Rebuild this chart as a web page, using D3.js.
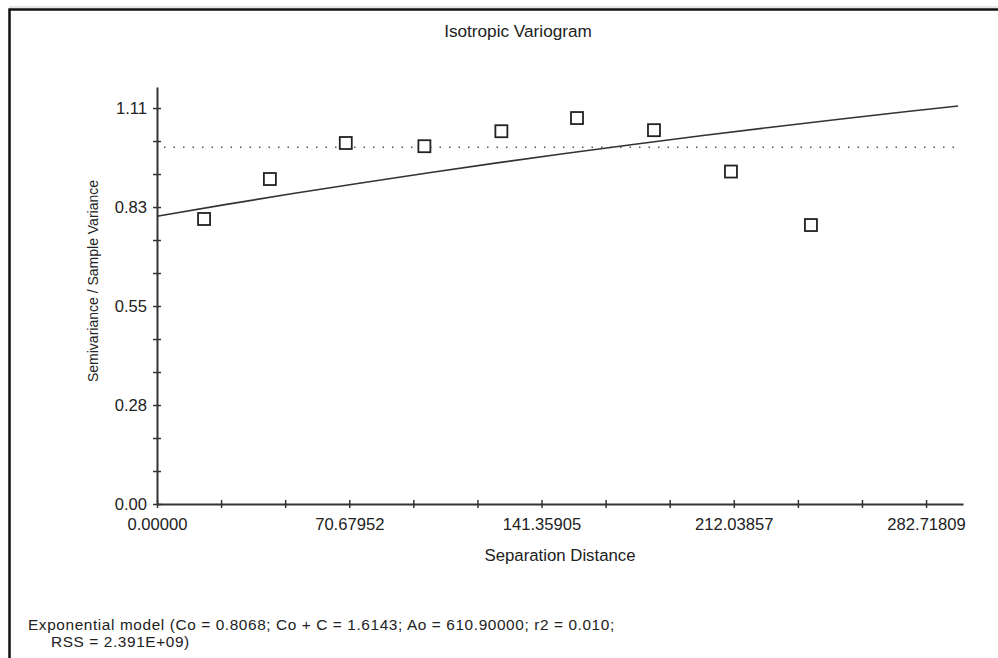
<!DOCTYPE html>
<html>
<head>
<meta charset="utf-8">
<script src="https://cdn.jsdelivr.net/npm/d3@7"></script>
<style>
body{margin:0;background:#fff;}
svg{display:block;font-family:"Liberation Sans",Arial,sans-serif;}
</style>
</head>
<body>
<svg id="chart" width="998" height="658"></svg>
<script>
// sample variogram points (lag distance, semivariance / sample variance)
var lagDist = [17.3, 41.5, 69.4, 98.3, 126.6, 154.4, 182.7, 211.0, 240.4];
var semiVar = [0.799, 0.911, 1.012, 1.003, 1.045, 1.082, 1.048, 0.932, 0.782];

// fitted exponential model
var modelLag = [0, 25, 50, 75, 100, 125, 150, 175, 200, 225, 250, 275, 294.5];
var modelVal = [0.8068, 0.8392, 0.8703, 0.9001, 0.9287, 0.9562, 0.9826, 1.0079, 1.0322, 1.0556, 1.0780, 1.0995, 1.1157];

var sampleVariance = 1.0;

var xTickLabels = ["0.00000", "70.67952", "141.35905", "212.03857", "282.71809"];
var yTickLabels = ["0.00", "0.28", "0.55", "0.83", "1.11"];
var xStep = 70.67952, yStep = 0.2775;

var titleText = "Isotropic Variogram";
var xLabel = "Separation Distance";
var yLabel = "Semivariance / Sample Variance";
var footer = ["Exponential model (Co = 0.8068; Co + C = 1.6143; Ao = 610.90000; r2 = 0.010;",
              "RSS = 2.391E+09)"];

var svg = d3.select("#chart");
var ink = "#222";

// frame
svg.append("path").attr("d", "M9.5,658V9.5H998")
	.attr("fill", "none").attr("stroke", "#111").attr("stroke-width", 2.5);
svg.append("line").attr("x1", 9).attr("x2", 998).attr("y1", 7).attr("y2", 7)
	.attr("stroke", "#ccc").attr("stroke-width", 1);

var x = d3.scaleLinear().domain([0, 296.3]).range([157, 963]);
var y = d3.scaleLinear().domain([0, 1.169]).range([504, 87]);

var xTicks = d3.range(0, 13).map(function(i){ return i * xStep / 3; });
var yTicks = d3.range(0, 13).map(function(i){ return i * yStep / 3; });

// x axis
var xAxis = svg.append("g").attr("transform", "translate(0," + y(0) + ")")
	.call(d3.axisBottom(x).tickValues(xTicks).tickSizeInner(4).tickSizeOuter(0)
		.tickFormat(function(d, i){ return i % 3 == 0 ? xTickLabels[i / 3] : ""; }));
xAxis.select(".domain").attr("stroke", "#333").attr("stroke-width", 2);
xAxis.selectAll(".tick line").attr("y1", -4).attr("stroke", "#333").attr("stroke-width", 1.5);
xAxis.selectAll(".tick text").attr("y", 14).attr("dy", "0.71em")
	.attr("font-size", 16.6).attr("fill", ink).attr("font-family", null);

// y axis
var yAxis = svg.append("g").attr("transform", "translate(" + x(0) + ",0)")
	.call(d3.axisLeft(y).tickValues(yTicks).tickSizeInner(4).tickSizeOuter(0)
		.tickFormat(function(d, i){ return i % 3 == 0 ? yTickLabels[i / 3] : ""; }));
yAxis.select(".domain").attr("stroke", "#333").attr("stroke-width", 2);
yAxis.selectAll(".tick line").attr("x1", 4).attr("stroke", "#333").attr("stroke-width", 1.5);
yAxis.selectAll(".tick text").attr("x", -10)
	.attr("font-size", 16.6).attr("fill", ink).attr("font-family", null);

// sample variance (dotted)
svg.append("line")
	.attr("x1", x(0)).attr("x2", x(modelLag[modelLag.length - 1]))
	.attr("y1", y(sampleVariance)).attr("y2", y(sampleVariance))
	.attr("stroke", "#555").attr("stroke-width", 1.6)
	.attr("stroke-dasharray", "1.5 8").attr("stroke-dashoffset", 2.5);

// model curve
var line = d3.line().x(function(d){ return x(d[0]); }).y(function(d){ return y(d[1]); });
svg.append("path").datum(d3.zip(modelLag, modelVal))
	.attr("d", line).attr("fill", "none").attr("stroke", "#333").attr("stroke-width", 1.6);

// points
var sq = 12;
svg.selectAll("rect.pt").data(d3.zip(lagDist, semiVar)).enter().append("rect")
	.attr("class", "pt")
	.attr("x", function(d){ return x(d[0]) - sq / 2; })
	.attr("y", function(d){ return y(d[1]) - sq / 2; })
	.attr("width", sq).attr("height", sq)
	.attr("fill", "#fff").attr("stroke", "#222").attr("stroke-width", 1.8);

// texts
svg.append("text").attr("x", 518).attr("y", 37).attr("text-anchor", "middle")
	.attr("font-size", 17.2).attr("fill", ink).text(titleText);
svg.append("text").attr("x", (x.range()[0] + x.range()[1]) / 2).attr("y", 561).attr("text-anchor", "middle")
	.attr("font-size", 16.8).attr("fill", ink).text(xLabel);
svg.append("text").attr("transform", "translate(98,281) rotate(-90)").attr("text-anchor", "middle")
	.attr("font-size", 14).attr("fill", ink).text(yLabel);

svg.append("text").attr("x", 28).attr("y", 630).attr("font-size", 15.4).attr("letter-spacing", 0.6)
	.attr("fill", ink).text(footer[0]);
svg.append("text").attr("x", 51).attr("y", 647).attr("font-size", 15.4).attr("letter-spacing", 0.6)
	.attr("fill", ink).text(footer[1]);
</script>
</body>
</html>
